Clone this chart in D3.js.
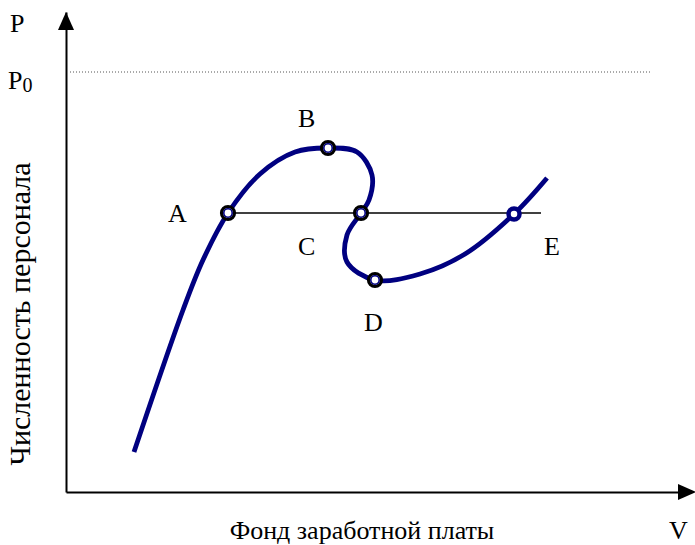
<!DOCTYPE html>
<html><head><meta charset="utf-8">
<script src="https://cdn.jsdelivr.net/npm/d3@7"></script>
<style>body{margin:0;background:#fff}svg{display:block}text{font-family:"Liberation Serif","Times New Roman",serif;fill:#000}</style>
</head><body>
<svg id="c" width="695" height="545"></svg>
<script>
// Schematic curve: staff number vs wage fund (arbitrary units)
const curveX = [11.33,19.5,22.83,27,32.33,38.17,43.67,48.5,51,50.5,49.17,46.83,46.83,51.5,59,66.5,74.67,80.17];
const curveY = [8.33,37.92,48.33,58.13,66.25,70.83,71.67,70.83,66.04,60.83,58.13,53.54,47.92,44.17,45.42,49.58,57.92,65.42];
const pointNames = ["A","B","C","D","E"];
const pointX = [27,43.67,49.17,51.5,74.67];
const pointY = [58.13,71.67,58.13,44.17,57.92];
const levelY = 58.13;      // horizontal line A–E
const levelXEnd = 79.17;
const p0Value = 87.5;      // dotted P0 line
const p0XEnd = 97.5;
const xDomain = [0,104], yDomain = [0,100];

const svg = d3.select("#c");
const x = d3.scaleLinear().domain(xDomain).range([66,690]);
const y = d3.scaleLinear().domain(yDomain).range([492,12]);

// axes
svg.append("g").attr("transform",`translate(0,${y(0)})`)
  .call(d3.axisBottom(x).tickValues([]).tickSizeOuter(0))
  .select(".domain").attr("stroke","#000").attr("stroke-width",2);
svg.append("g").attr("transform",`translate(${x(0)},0)`)
  .call(d3.axisLeft(y).tickValues([]).tickSizeOuter(0))
  .select(".domain").attr("stroke","#000").attr("stroke-width",2);
// arrow heads
const X0=x(0), Y0=y(0), XT=x(xDomain[1]), YT=y(yDomain[1]);
svg.append("path").attr("d",`M${X0},${YT} L${X0-8},${YT+18} L${X0+8},${YT+18}Z`).attr("fill","#000");
svg.append("path").attr("d",`M${XT+6},${Y0} L${XT-12},${Y0-8} L${XT-12},${Y0+8}Z`).attr("fill","#000");

// P0 dotted line
svg.append("line").attr("x1",x(0)+4).attr("x2",x(p0XEnd)).attr("y1",y(p0Value)).attr("y2",y(p0Value))
  .attr("stroke","#555").attr("stroke-width",1).attr("stroke-dasharray","1,2");

// horizontal line A-E
svg.append("line").attr("x1",x(pointX[0])).attr("x2",x(levelXEnd)).attr("y1",y(levelY)).attr("y2",y(levelY))
  .attr("stroke","#000").attr("stroke-width",1.3);

// curve
const pts = curveX.map((v,i)=>[v,curveY[i]]);
const line = d3.line().x(d=>x(d[0])).y(d=>y(d[1])).curve(d3.curveCatmullRom.alpha(0.5));
svg.append("path").attr("d",line(pts)).attr("fill","none").attr("stroke","#000080").attr("stroke-width",4.8).attr("stroke-linecap","butt");

// markers
pointNames.forEach((n,i)=>{
  const cx=x(pointX[i]), cy=y(pointY[i]);
  if(n==="E"){
    svg.append("circle").attr("cx",cx).attr("cy",cy).attr("r",5.5).attr("fill","#fff").attr("stroke","#000080").attr("stroke-width",4.5);
  } else {
    svg.append("circle").attr("cx",cx).attr("cy",cy).attr("r",6.5).attr("fill","#fff").attr("stroke","#000").attr("stroke-width",3.2);
    svg.append("circle").attr("cx",cx).attr("cy",cy).attr("r",4.2).attr("fill","none").attr("stroke","#000080").attr("stroke-width",1.6);
    svg.append("circle").attr("cx",cx).attr("cy",cy).attr("r",2.2).attr("fill","#fff");
  }
});

// point labels
const labelPos = {A:[168,222],B:[298,127],C:[298,255],D:[364,331],E:[544,255]};
pointNames.forEach(n=>{
  svg.append("text").attr("x",labelPos[n][0]).attr("y",labelPos[n][1]).attr("font-size",26).text(n);
});

// axis labels
svg.append("text").attr("x",10).attr("y",32).attr("font-size",26).text("P");
const p0 = svg.append("text").attr("x",8).attr("y",89).attr("font-size",26);
p0.append("tspan").text("P");
p0.append("tspan").attr("font-size",20).attr("dy",3).text("0");
svg.append("text").attr("x",362).attr("y",539).attr("text-anchor","middle").attr("font-size",26).text("Фонд заработной платы");
svg.append("text").attr("x",669).attr("y",539).attr("font-size",26).text("V");
svg.append("text").attr("transform","translate(30,314) rotate(-90)").attr("text-anchor","middle").attr("font-size",30).text("Численность персонала");
</script>
</body></html>
